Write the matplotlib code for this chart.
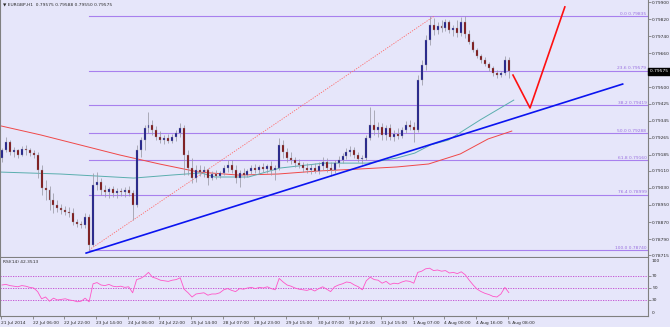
import matplotlib
matplotlib.use('Agg')
import matplotlib.pyplot as plt
from matplotlib.patches import Rectangle
from matplotlib.transforms import blended_transform_factory

# ---------------- data (EURGBP, 2-hour candles, starting 21 Jul 2014) ----------------
opens = [0.79170, 0.79207, 0.79245, 0.79198, 0.79207, 0.79184, 0.79212, 0.79207, 0.79193, 0.79184,
         0.79114, 0.79030, 0.79020, 0.78973, 0.78950, 0.78936, 0.78927, 0.78917, 0.78913, 0.78870,
         0.78861, 0.78856, 0.78894, 0.78763, 0.79044, 0.79058, 0.79020, 0.79011, 0.79025, 0.79006,
         0.79016, 0.79011, 0.79020, 0.79006, 0.78950, 0.79207, 0.79254, 0.79310, 0.79324, 0.79301,
         0.79268, 0.79254, 0.79264, 0.79249, 0.79268, 0.79287, 0.79310, 0.79184, 0.79123, 0.79076,
         0.79114, 0.79104, 0.79114, 0.79076, 0.79095, 0.79086, 0.79100, 0.79123, 0.79137, 0.79114,
         0.79076, 0.79100, 0.79090, 0.79109, 0.79123, 0.79114, 0.79128, 0.79118, 0.79133, 0.79114,
         0.79123, 0.79231, 0.79198, 0.79170, 0.79161, 0.79146, 0.79137, 0.79123, 0.79114, 0.79123,
         0.79109, 0.79133, 0.79151, 0.79123, 0.79114, 0.79146, 0.79161, 0.79179, 0.79198, 0.79207,
         0.79184, 0.79165, 0.79170, 0.79264, 0.79324, 0.79301, 0.79315, 0.79278, 0.79310, 0.79268,
         0.79282, 0.79273, 0.79301, 0.79324, 0.79315, 0.79301, 0.79535, 0.79605, 0.79722, 0.79792,
         0.79769, 0.79788, 0.79778, 0.79806, 0.79769, 0.79778, 0.79755, 0.79806, 0.79750, 0.79713,
         0.79675, 0.79647, 0.79629, 0.79610, 0.79591, 0.79568, 0.79558, 0.79568, 0.79629]
highs = [0.79217, 0.79268, 0.79254, 0.79221, 0.79212, 0.79226, 0.79231, 0.79217, 0.79207, 0.79198,
         0.79137, 0.79067, 0.79039, 0.79006, 0.78973, 0.78955, 0.78945, 0.78941, 0.78936, 0.78885,
         0.78875, 0.78913, 0.78908, 0.79100, 0.79104, 0.79076, 0.79044, 0.79034, 0.79039, 0.79030,
         0.79030, 0.79034, 0.79039, 0.79020, 0.79231, 0.79268, 0.79324, 0.79385, 0.79348, 0.79320,
         0.79296, 0.79278, 0.79282, 0.79282, 0.79301, 0.79334, 0.79324, 0.79207, 0.79170, 0.79137,
         0.79137, 0.79133, 0.79123, 0.79109, 0.79114, 0.79109, 0.79137, 0.79161, 0.79161, 0.79137,
         0.79114, 0.79123, 0.79118, 0.79137, 0.79142, 0.79137, 0.79146, 0.79142, 0.79156, 0.79137,
         0.79264, 0.79254, 0.79217, 0.79198, 0.79175, 0.79165, 0.79151, 0.79146, 0.79142, 0.79146,
         0.79151, 0.79175, 0.79170, 0.79151, 0.79161, 0.79179, 0.79193, 0.79217, 0.79226, 0.79221,
         0.79198, 0.79184, 0.79278, 0.79409, 0.79395, 0.79338, 0.79334, 0.79324, 0.79329, 0.79301,
         0.79310, 0.79315, 0.79343, 0.79348, 0.79338, 0.79558, 0.79629, 0.79746, 0.79835, 0.79825,
         0.79806, 0.79816, 0.79820, 0.79816, 0.79792, 0.79816, 0.79832, 0.79835, 0.79769, 0.79722,
         0.79685, 0.79657, 0.79643, 0.79619, 0.79600, 0.79582, 0.79577, 0.79647, 0.79643]
lows = [0.79151, 0.79198, 0.79184, 0.79175, 0.79170, 0.79179, 0.79184, 0.79179, 0.79170, 0.79076,
        0.78997, 0.78973, 0.78927, 0.78913, 0.78917, 0.78908, 0.78903, 0.78894, 0.78856, 0.78847,
        0.78842, 0.78842, 0.78740, 0.78758, 0.79020, 0.78997, 0.78988, 0.78983, 0.78988, 0.78983,
        0.78992, 0.78988, 0.78992, 0.78880, 0.78941, 0.79175, 0.79207, 0.79287, 0.79278, 0.79254,
        0.79240, 0.79236, 0.79240, 0.79240, 0.79249, 0.79268, 0.79090, 0.79090, 0.79053, 0.79058,
        0.79086, 0.79081, 0.79044, 0.79067, 0.79072, 0.79076, 0.79090, 0.79104, 0.79100, 0.79053,
        0.79034, 0.79076, 0.79081, 0.79095, 0.79100, 0.79095, 0.79104, 0.79100, 0.79090, 0.79067,
        0.79114, 0.79170, 0.79151, 0.79142, 0.79128, 0.79123, 0.79104, 0.79100, 0.79095, 0.79100,
        0.79095, 0.79114, 0.79104, 0.79086, 0.79100, 0.79128, 0.79146, 0.79165, 0.79179, 0.79170,
        0.79151, 0.79142, 0.79161, 0.79254, 0.79278, 0.79268, 0.79254, 0.79254, 0.79254, 0.79249,
        0.79259, 0.79264, 0.79287, 0.79301, 0.79245, 0.79292, 0.79512, 0.79582, 0.79699, 0.79746,
        0.79750, 0.79760, 0.79764, 0.79755, 0.79741, 0.79736, 0.79741, 0.79732, 0.79704, 0.79666,
        0.79638, 0.79615, 0.79600, 0.79577, 0.79554, 0.79544, 0.79549, 0.79558, 0.79544]
closes = [0.79207, 0.79245, 0.79198, 0.79207, 0.79184, 0.79212, 0.79207, 0.79193, 0.79184, 0.79114,
          0.79030, 0.79020, 0.78973, 0.78950, 0.78936, 0.78927, 0.78917, 0.78913, 0.78870, 0.78861,
          0.78856, 0.78894, 0.78763, 0.79044, 0.79058, 0.79020, 0.79011, 0.79025, 0.79006, 0.79016,
          0.79011, 0.79020, 0.79006, 0.78950, 0.79207, 0.79254, 0.79310, 0.79324, 0.79301, 0.79268,
          0.79254, 0.79264, 0.79249, 0.79268, 0.79287, 0.79310, 0.79184, 0.79123, 0.79076, 0.79114,
          0.79104, 0.79114, 0.79076, 0.79095, 0.79086, 0.79100, 0.79123, 0.79137, 0.79114, 0.79076,
          0.79100, 0.79090, 0.79109, 0.79123, 0.79114, 0.79128, 0.79118, 0.79133, 0.79114, 0.79123,
          0.79231, 0.79198, 0.79170, 0.79161, 0.79146, 0.79137, 0.79123, 0.79114, 0.79123, 0.79109,
          0.79133, 0.79151, 0.79123, 0.79114, 0.79146, 0.79161, 0.79179, 0.79198, 0.79207, 0.79184,
          0.79165, 0.79170, 0.79264, 0.79324, 0.79301, 0.79315, 0.79278, 0.79310, 0.79268, 0.79282,
          0.79273, 0.79301, 0.79324, 0.79315, 0.79301, 0.79535, 0.79605, 0.79722, 0.79792, 0.79769,
          0.79788, 0.79778, 0.79806, 0.79769, 0.79778, 0.79755, 0.79806, 0.79750, 0.79713, 0.79675,
          0.79647, 0.79629, 0.79610, 0.79591, 0.79568, 0.79558, 0.79568, 0.79629, 0.79575]
rsi_values = [55, 56, 54, 53, 52, 54, 53, 51, 50, 44,
              32, 35, 28, 33, 30, 31, 32, 30, 29, 27,
              28, 33, 27, 57, 59, 55, 54, 56, 53, 52,
              53, 51, 52, 42, 64, 66, 70, 76, 68, 66,
              63, 62, 61, 63, 64, 67, 48, 42, 35, 40,
              41, 42, 38, 40, 40, 42, 47, 49, 46, 44,
              49, 48, 50, 51, 49, 51, 50, 52, 49, 47,
              66, 60, 55, 53, 50, 48, 47, 46, 48, 45,
              49, 52, 48, 44, 52, 55, 57, 60, 59, 55,
              52, 47, 62, 68, 64, 63, 58, 61, 56, 58,
              57, 60, 62, 61, 58, 76, 78, 82, 83, 79,
              80, 78, 79, 75, 76, 74, 77, 72, 63, 55,
              48, 44, 41, 39, 36, 35, 40, 51, 42.35]

# moving averages, read at sample hours (hour index from first bar)
ma_red_hours = [0, 20, 40, 60, 80, 100, 120, 140, 160, 180, 200, 216, 232, 246, 258]
ma_red = [0.79320, 0.79278, 0.79231, 0.79184, 0.79142, 0.79104, 0.79090, 0.79095, 0.79109,
          0.79118, 0.79128, 0.79142, 0.79189, 0.79259, 0.79296]
ma_teal_hours = [0, 30, 67, 86, 101, 108, 125, 141, 163, 185, 200, 209, 217, 226, 242, 259]
ma_teal = [0.79104, 0.79095, 0.79076, 0.79090, 0.79100, 0.79081, 0.79081, 0.79123, 0.79146,
           0.79146, 0.79170, 0.79193, 0.79231, 0.79254, 0.79348, 0.79441]

fib_pct = [0.0, 23.6, 38.2, 50.0, 61.8, 76.4, 100.0]
fib_price = [0.79835, 0.79579, 0.79419, 0.79288, 0.79160, 0.78999, 0.78740]
fib_anchor_hours = [44.5, 219]
fib_anchor_price = [0.78740, 0.79835]

trend_hours = [43, 314]
trend_price = [0.78725, 0.79516]
proj_hours = [258.6, 267.2, 284.8]
proj_price = [0.79558, 0.79404, 0.79877]

price_ticks = [0.79900, 0.79820, 0.79740, 0.79660, 0.79500, 0.79425, 0.79345, 0.79265,
               0.79185, 0.79110, 0.79030, 0.78950, 0.78870, 0.78790, 0.78715]
time_labels = ["21 Jul 2014", "22 Jul 06:00", "22 Jul 22:00", "23 Jul 14:00", "24 Jul 06:00",
               "24 Jul 22:00", "25 Jul 14:00", "28 Jul 07:00", "28 Jul 23:00", "29 Jul 15:00",
               "30 Jul 07:00", "30 Jul 23:00", "31 Jul 15:00", "1 Aug 07:00", "4 Aug 00:00",
               "4 Aug 16:00", "5 Aug 08:00"]
time_label_hours = [16 * i for i in range(len(time_labels))]
rsi_levels = [30, 50, 70]
current_price = 0.79575

# ---------------- layout ----------------
W, H = 670, 327
BG = '#e6e6fa'
GRID = '#808080'
FS = 3.2
TXT = '#2a2a2a'
fig = plt.figure(figsize=(W / 100, H / 100), dpi=100, facecolor=BG)

x0_h, x1_h = -0.505, 326.8
ax = fig.add_axes([0, 1 - 257 / H, 648 / W, 257 / H], facecolor=BG)
rax = fig.add_axes([0, 1 - 316 / H, 648 / W, 58 / H], facecolor=BG)

for a in (ax, rax):
    a.set_xlim(x0_h, x1_h)
    for s in a.spines.values():
        s.set_color(GRID)
        s.set_linewidth(0.8)
    a.spines['top'].set_visible(False)
    a.yaxis.tick_right()

ax.set_ylim(0.787066, 0.799094)

# candles
bw = 1.0
for k in range(len(closes)):
    xc = 2 * k + 0.5
    o, h, l, c = opens[k], highs[k], lows[k], closes[k]
    ax.plot([xc, xc], [l, h], color='#9a9aa6', lw=0.55, zorder=3, solid_capstyle='butt')
    body_col = '#141486' if c >= o else '#7a0a0a'
    lo = min(o, c)
    hgt = max(abs(c - o), 0.000015)
    ax.add_patch(Rectangle((xc - bw / 2, lo), bw, hgt, facecolor=body_col,
                           edgecolor='#a0a0aa', lw=0.25, zorder=4))

# moving averages
ax.plot(ma_red_hours, ma_red, color='#f04848', lw=0.7, zorder=2)
ax.plot(ma_teal_hours, ma_teal, color='#5aaeae', lw=0.7, zorder=2)

# fibonacci
for pct, pr in zip(fib_pct, fib_price):
    ax.plot([fib_anchor_hours[0], x1_h], [pr, pr], color='#a880ee', lw=0.8, zorder=1)
    ax.text(x1_h - 0.8, pr + 0.000012, f"{pct:.1f} {pr:.5f}", ha='right', va='bottom',
            fontsize=FS, color='#9a6fe0', zorder=6)
ax.plot(fib_anchor_hours, fib_anchor_price, color='#ff6a6a', lw=0.6, ls=(0, (1.5, 1.5)), zorder=2)

# trend line and projection
ax.plot(trend_hours, trend_price, color='#0a14f0', lw=1.2, zorder=5)
ax.plot(proj_hours, proj_price, color='#ff1010', lw=1.2, zorder=5)

# price axis
ax.set_xticks([])
ax.set_yticks(price_ticks)
ax.set_yticklabels([f"{v:.5f}" for v in price_ticks])
ax.tick_params(axis='y', length=2, width=0.6, color=GRID, labelsize=FS, pad=1, labelcolor=TXT)
tr = blended_transform_factory(ax.transAxes, ax.transData)
ax.text(1.0 + 2 / 648, current_price, "0.79575 ", transform=tr, ha='left', va='center',
        fontsize=FS, color='white', zorder=10,
        bbox=dict(boxstyle='square,pad=0.35', facecolor='black', edgecolor='black'))

# header
fig.text(3 / W, 1 - 5 / H, "\u25bc EURGBP,H1  0.79575 0.79588 0.79550 0.79575",
         fontsize=FS, color=TXT, va='center', ha='left')

# ---------------- RSI panel ----------------
rsi_hours = [2 * k + 0.5 for k in range(len(rsi_values))]
rax.set_ylim(3.3, 100)
for lv in rsi_levels:
    rax.axhline(lv, color='#c040d0', lw=0.6, ls=(0, (1.5, 1.5)), zorder=1)
rax.plot(rsi_hours, rsi_values, color='#ff55c8', lw=0.6, zorder=3)
rax.set_yticks(rsi_levels)
rax.set_yticklabels([str(v) for v in rsi_levels])
rax.tick_params(axis='y', length=2, width=0.6, color=GRID, labelsize=FS, pad=1, labelcolor=TXT)
rtr = blended_transform_factory(rax.transAxes, rax.transData)
rax.text(1.0 + 4 / 648, 99, "100", transform=rtr, fontsize=FS, color=TXT, ha='left', va='top')
rax.text(1.0 + 4 / 648, 4.5, "0", transform=rtr, fontsize=FS, color=TXT, ha='left', va='bottom')
rax.text(3 / 648, 97, "RSI(14) 42.3513", transform=rtr, fontsize=FS, color=TXT, ha='left', va='top')

rax.set_xticks(time_label_hours)
rax.set_xticklabels(time_labels)
for lbl in rax.get_xticklabels():
    lbl.set_ha('left')
rax.tick_params(axis='x', length=2, width=0.6, color=GRID, labelsize=FS, pad=1.5, labelcolor=TXT)

fig.savefig('out.png', dpi=100, facecolor=BG)
